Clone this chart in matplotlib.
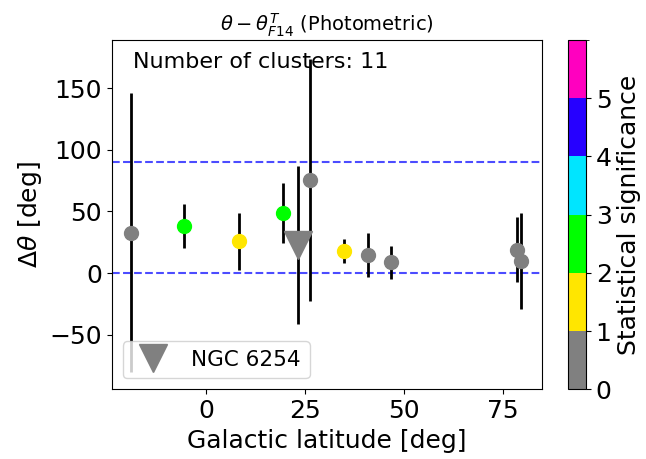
import numpy as np
import matplotlib
matplotlib.use("Agg")
import matplotlib.pyplot as plt
from matplotlib.colors import ListedColormap, BoundaryNorm
from matplotlib.cm import ScalarMappable

# cluster data
lat = [-19.0, -5.6, 8.3, 19.4, 26.2, 34.9, 40.9, 46.8, 78.7, 79.8]
dtheta = [32.7, 38.4, 26.0, 48.9, 75.7, 17.8, 14.6, 8.7, 19.2, 10.0]
dtheta_err = [113.0, 18.0, 23.0, 24.5, 98.0, 9.7, 17.8, 13.6, 26.0, 39.0]
signif = [0.5, 2.5, 1.5, 2.5, 0.5, 1.5, 0.5, 0.5, 0.5, 0.5]

# special cluster
ngc_lat = 23.1
ngc_dtheta = 22.7
ngc_err = 63.8
ngc_signif = 0.5

cmap_colors = ["#808080", "#ffe600", "#00ff00", "#00e5ff", "#2600ff", "#ff00bf"]
bounds = [0, 1, 2, 3, 4, 5, 6]

cmap = ListedColormap(cmap_colors)
norm = BoundaryNorm(bounds, cmap.N)

fig = plt.figure(figsize=(6.46, 4.59), dpi=100)
ax = fig.add_axes([0.173, 0.152, 0.666, 0.761])
cax = fig.add_axes([0.879, 0.152, 0.028, 0.761])

ax.axhline(0, color="blue", ls="--", lw=1.5, alpha=0.7, zorder=1)
ax.axhline(90, color="blue", ls="--", lw=1.5, alpha=0.7, zorder=1)

for x, y, e, s in zip(lat, dtheta, dtheta_err, signif):
    ax.errorbar(x, y, yerr=e, fmt="none", ecolor="black", elinewidth=2, zorder=2)
    ax.plot(x, y, "o", ms=10, color=cmap(norm(s)), zorder=3)

ax.errorbar(ngc_lat, ngc_dtheta, yerr=ngc_err, fmt="none", ecolor="black", elinewidth=2, zorder=2)
ax.plot(ngc_lat, ngc_dtheta, "v", ms=20, color=cmap(norm(ngc_signif)), zorder=4,
        label="NGC 6254", ls="none")

ax.set_xlim(-24, 85)
ax.set_ylim(-94, 189)
ax.set_xticks([0, 25, 50, 75])
ax.set_yticks([-50, 0, 50, 100, 150])
ax.tick_params(labelsize=18)
ax.set_xlabel("Galactic latitude [deg]", fontsize=18)
ax.set_ylabel(r"$\Delta\theta$ [deg]", fontsize=18)
ax.set_title(r"$\theta - \theta^{T}_{F14}$ (Photometric)", fontsize=14)
ax.text(0.05, 0.965, "Number of clusters: 11", transform=ax.transAxes,
        fontsize=16, va="top", ha="left")
ax.legend(loc="lower left", fontsize=15.5, borderpad=0.4)

sm = ScalarMappable(cmap=cmap, norm=norm)
cb = fig.colorbar(sm, cax=cax, ticks=[0, 1, 2, 3, 4, 5])
cb.ax.tick_params(labelsize=18)
cb.set_label("Statistical significance", fontsize=18)

plt.savefig("out.png", dpi=100)
